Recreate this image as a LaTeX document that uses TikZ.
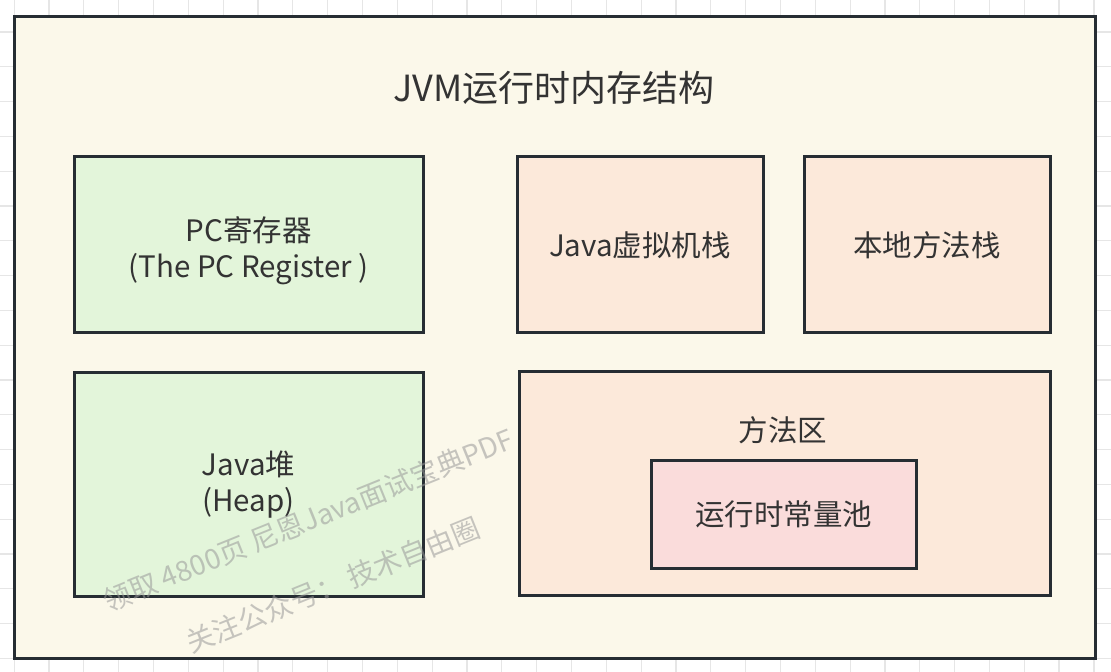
\documentclass[tikz,border=0pt]{standalone}
\usepackage{fontspec}
\setmainfont{Noto Sans CJK SC}
\usetikzlibrary{positioning}
\definecolor{edge}{HTML}{262D33}
\definecolor{ink}{HTML}{333333}
\definecolor{cream}{HTML}{FBF8EA}
\definecolor{leaf}{HTML}{E3F5DA}
\definecolor{peach}{HTML}{FCE9DA}
\definecolor{rose}{HTML}{FADCDB}
\definecolor{gridc}{HTML}{E6E6E6}

\begin{document}
\begin{tikzpicture}[x=0.5pt, y=-0.5pt,
  area/.style={draw=edge, line width=1.5pt, text=ink, align=center,
    font=\fontsize{14.75pt}{18pt}\selectfont, inner sep=0pt},
  green/.style={area, fill=leaf, minimum width=174.5pt},
  peachbox/.style={area, fill=peach},
  caption/.style={text=ink, align=center, font=\fontsize{14.75pt}{18pt}\selectfont},
  wmark/.style={text=black!40, opacity=0.55, rotate=22,
    font=\fontsize{14pt}{18pt}\selectfont}]
\useasboundingbox (0,0) rectangle (1111,672);
\fill[white] (0,0) rectangle (1111,672);
% grid
\foreach \i in {0,...,31}
  \draw[gridc, line width=0.6pt] ({14.17+34.83*\i},0) -- ({14.17+34.83*\i},672);
\foreach \j in {0,...,19}
  \draw[gridc, line width=0.6pt] (0,{-2.8+34.8*\j}) -- (1111,{-2.8+34.8*\j});

\node[area, fill=cream, minimum width=540.5pt, minimum height=320.5pt] (jvm) at (554.5,337.5) {};
\node[text=ink, font=\fontsize{18pt}{22pt}\selectfont] (title) at (554,88) {JVM运行时内存结构};

\node[green, minimum height=88pt,
  label={[caption, yshift=-3pt]center:PC寄存器\\(The PC Register )}] (pc) at (248.5,245) {};
\node[green, minimum height=111.5pt, below=18.5pt of pc] (heap) {Java堆\\(Heap)};

\node[peachbox, minimum width=123pt, minimum height=88pt] (jstack) at (640,245) {Java虚拟机栈};
\node[peachbox, minimum width=123pt, minimum height=88pt, right=19pt of jstack] (native) {本地方法栈};

\node[peachbox, minimum width=265.5pt, minimum height=111.5pt] (method) at (784.5,483.5) {};
\node[caption] (methodlbl) at (783,430) {方法区};
\node[area, fill=rose, minimum width=132.5pt, minimum height=53.5pt] (pool) at (783.5,514.5) {运行时常量池};

% watermark
\node[wmark] (wm1) at (308,520) {领取 4800页 尼恩Java面试宝典PDF};
\node[wmark] (wm2) at (333,585) {关注公众号：\ 技术自由圈};
\end{tikzpicture}
\end{document}
